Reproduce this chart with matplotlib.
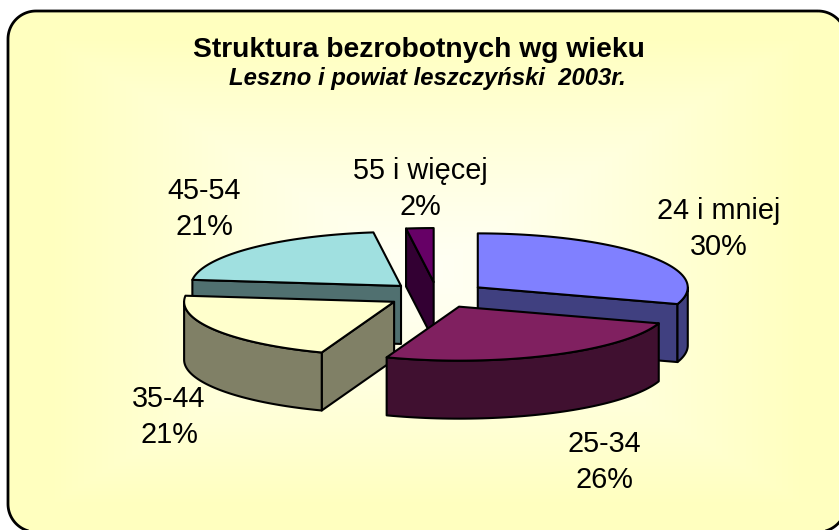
import numpy as np
import matplotlib
matplotlib.use("Agg")
import matplotlib.pyplot as plt
from matplotlib.patches import Polygon

plt.rcParams["font.family"] = ["Liberation Sans", "DejaVu Sans"]

# shares in percent, clockwise from 12 o'clock
categories = ["24 i mniej", "25-34", "35-44", "45-54", "55 i więcej"]
shares = [30.0, 25.6, 21.2, 21.1, 2.1]
top_colors = ["#8080FF", "#802060", "#FFFFCC", "#A0E0E0", "#660066"]
side_colors = ["#404080", "#401030", "#808066", "#507070", "#330033"]

title = "Struktura bezrobotnych wg wieku"
subtitle = "Leszno i powiat leszczyński  2003r."

# pie layout, in pixels
CENTER = (437, 295)
RX, RY = 210, 54
DEPTH = 58
EXPLODE = 0.24
DRAW_ORDER = [3, 4, 0, 2, 1]
LABEL_POS = [(719, 229), (604, 462), (169, 417), (204, 209), (420, 189)]

fig = plt.figure(figsize=(8.39, 5.30), dpi=100, facecolor="white")
ax = fig.add_axes([0, 0, 1, 1])
ax.set_xlim(0, 839)
ax.set_ylim(530, 0)
ax.axis("off")


def rounded_outline(left, top, right, bottom, radius):
    corners = [(right - radius, top + radius, -90), (right - radius, bottom - radius, 0),
               (left + radius, bottom - radius, 90), (left + radius, top + radius, 180)]
    points = []
    for cx, cy, first in corners:
        t = np.radians(np.linspace(first, first + 90, 24))
        points.append(np.column_stack([cx + radius * np.cos(t), cy + radius * np.sin(t)]))
    return np.vstack(points)


# panel with pale yellow gradient, lighter in the middle; it runs off the right and bottom
yy, xx = np.mgrid[0:1:265j, 0:1:420j]
dist = np.maximum(np.abs(xx - 0.5), np.abs(yy - 0.5)) * 2
dist = np.clip(dist + 0.1, 0, 1) ** 1.3
blue = 0.97 - (0.97 - 0.75) * dist
grad = np.dstack([np.ones_like(blue), np.ones_like(blue), blue])
panel = Polygon(rounded_outline(8, 11, 846, 532, 28), closed=True, facecolor="none",
                edgecolor="black", linewidth=2.0, zorder=2)
ax.add_patch(panel)
img = ax.imshow(grad, extent=(8, 846, 532, 11), aspect="auto", zorder=1)
img.set_clip_path(panel)
ax.set_xlim(0, 839)
ax.set_ylim(530, 0)


def rim(center, start, end, dy=0.0):
    angles = np.radians(np.linspace(start, end, 60))
    return np.column_stack([center[0] + RX * np.sin(angles),
                            center[1] - RY * np.cos(angles) + dy])


def add_face(points, color, zorder):
    ax.add_patch(Polygon(points, closed=True, facecolor=color, edgecolor="black",
                         linewidth=1.5, joinstyle="round", zorder=zorder))


edges = np.concatenate([[0], np.cumsum(shares) / np.sum(shares) * 360])

for rank, i in enumerate(DRAW_ORDER):
    start, end = edges[i], edges[i + 1]
    mid = np.radians((start + end) / 2)
    apex = np.array([CENTER[0] + EXPLODE * RX * np.sin(mid),
                     CENTER[1] - EXPLODE * RY * np.cos(mid)])
    z = 3 + rank
    outer = rim(apex, start, end)

    # radial walls that face the viewer
    for angle, visible in ((start, np.sin(np.radians(start)) < -1e-6),
                           (end, np.sin(np.radians(end)) > 1e-6)):
        if visible:
            tip = rim(apex, angle, angle)[0]
            wall = [apex, tip, tip + (0, DEPTH), apex + (0, DEPTH)]
            add_face(wall, side_colors[i], z)

    # curved wall, front half of the ellipse only
    low, high = max(start, 90), min(end, 270)
    if low < high:
        front = rim(apex, low, high)
        add_face(np.vstack([front, (front + (0, DEPTH))[::-1]]), side_colors[i], z)

    add_face(np.vstack([apex, outer]), top_colors[i], z)

for name, share, pos in zip(categories, shares, LABEL_POS):
    ax.text(pos[0], pos[1], f"{name}\n{round(share)}%", ha="center", va="center",
            fontsize=20.8, linespacing=1.4, color="black", zorder=20)

ax.text(419, 50, title, ha="center", va="center", fontsize=20.3, fontweight="bold", zorder=20)
ax.text(427, 79, subtitle, ha="center", va="center", fontsize=17.2,
        fontweight="bold", fontstyle="italic", zorder=20)

fig.savefig("out.png", dpi=100)
